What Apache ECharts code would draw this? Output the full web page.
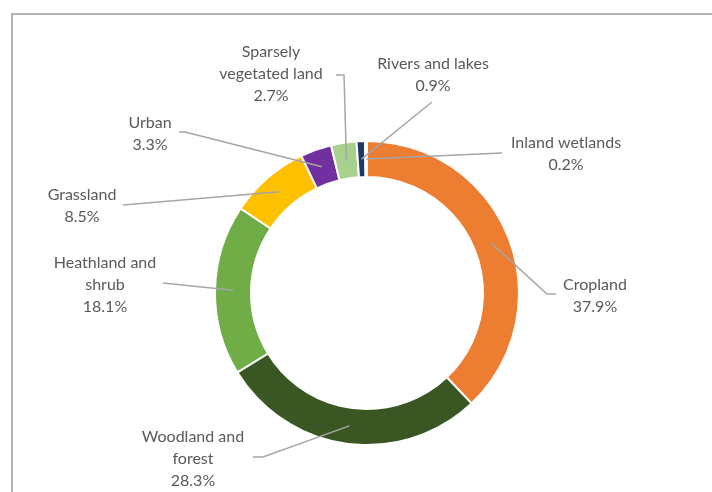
<!DOCTYPE html>
<html>
<head>
<meta charset="utf-8">
<script src="https://cdn.jsdelivr.net/npm/echarts@6/dist/echarts.min.js"></script>
<style>
html,body{margin:0;padding:0;background:#fff;}
#chart{width:712px;height:492px;}
</style>
</head>
<body>
<div id="chart"></div>
<script>
// ---- data ----
const categories = ['Cropland','Woodland and\nforest','Heathland and\nshrub','Grassland','Urban','Sparsely\nvegetated land','Rivers and lakes','Inland wetlands'];
const shares = [37.9, 28.3, 18.1, 8.5, 3.3, 2.7, 0.9, 0.2];
const colors = ['#ED7D31','#3A5723','#70AD47','#FFC000','#7030A0','#A9D18E','#203864','#5B9BD5'];

// ---- layout (label placement, pixels) ----
const CX = 367, CY = 293, R0 = 116, R1 = 152;
const labelCenters = [[595,296],[193,459],[105,285],[82,206],[150,134],[271,74],[433,75],[566,154]];
const leaderEnds = [
  [[547,294],[556,294]],
  [[263,457],[253,457]],
  [[163,283]],
  [[123,205]],
  [[185,132],[179,132]],
  [[344,75],[336,75]],
  [[432,102]],
  [[502,153]]
];

const total = shares.reduce((a,b)=>a+b,0);
const midFrac = [];
let acc = 0;
shares.forEach(v => { midFrac.push((acc + v/2)/total); acc += v; });

const pieData = categories.map((c,i) => ({name: c, value: shares[i]}));

const chart = echarts.init(document.getElementById('chart'));
chart.setOption({
  animation: false,
  backgroundColor: '#fff',
  graphic: [{
    type: 'rect', shape: {x: 12, y: 14, width: 760, height: 560},
    style: {fill: 'none', stroke: '#B3B3B3', lineWidth: 2}, silent: true
  }],
  series: [{
    // coloured ring
    type: 'pie',
    z: 2,
    center: [CX, CY],
    radius: [R0, R1],
    startAngle: 90,
    clockwise: true,
    data: pieData.map((d,i) => ({name: d.name, value: d.value, itemStyle: {color: colors[i]}})),
    itemStyle: {borderColor: '#fff', borderWidth: 2},
    label: {show: false},
    labelLine: {show: false},
    emphasis: {disabled: true}
  }, {
    // transparent twin carrying labels and leader lines above the ring
    type: 'pie',
    z: 3,
    center: [CX, CY],
    radius: [R0, R1],
    startAngle: 90,
    clockwise: true,
    avoidLabelOverlap: false,
    silent: true,
    data: pieData,
    itemStyle: {color: 'rgba(0,0,0,0)', borderWidth: 0},
    label: {
      show: true,
      position: 'outside',
      formatter: p => p.name + '\n' + p.value.toFixed(1) + '%',
      fontFamily: 'Lato',
      fontSize: 16,
      lineHeight: 22,
      color: '#595959',
      align: 'center'
    },
    labelLine: {show: true, lineStyle: {color: '#A6A6A6', width: 1.5}},
    emphasis: {disabled: true},
    labelLayout: function (params) {
      const i = params.dataIndex;
      const a = midFrac[i] * 2 * Math.PI;
      const rm = (R0 + R1) / 2;
      const start = [CX + rm * Math.sin(a), CY - rm * Math.cos(a)];
      const ends = leaderEnds[i];
      const pts = ends.length === 2 ? [start, ends[0], ends[1]] : [start, ends[0], ends[0]];
      return {
        x: labelCenters[i][0],
        y: labelCenters[i][1],
        align: 'center',
        verticalAlign: 'middle',
        labelLinePoints: pts
      };
    }
  }]
});
</script>
</body>
</html>
